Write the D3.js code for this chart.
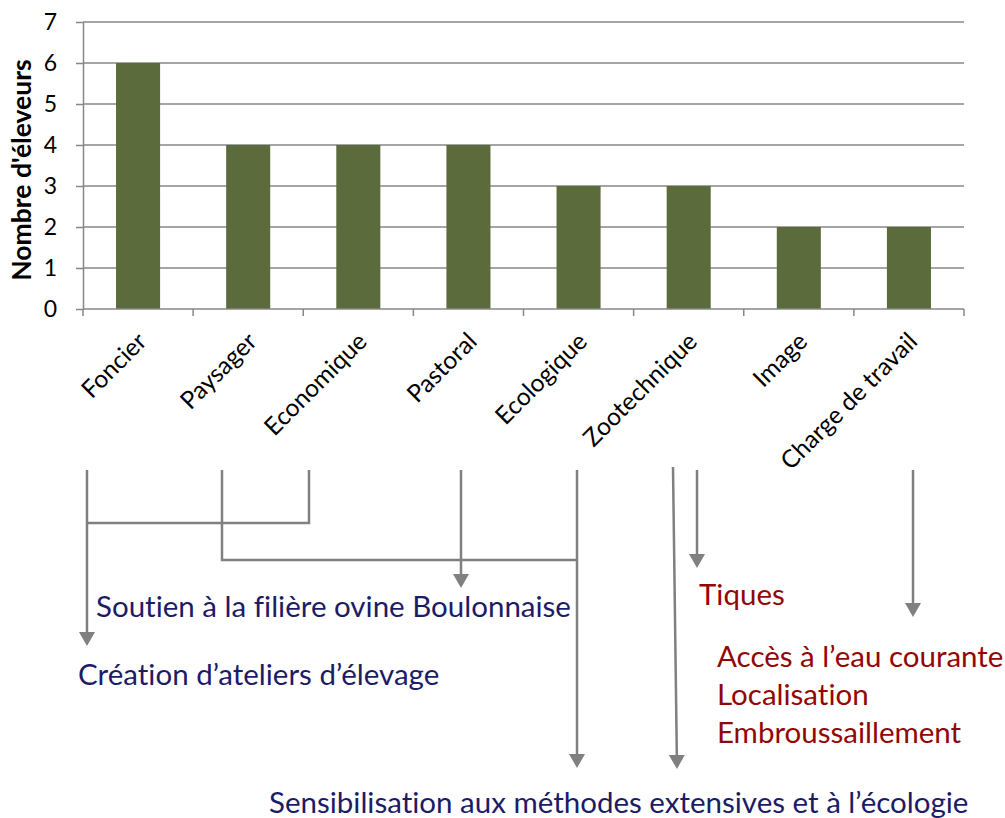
<!DOCTYPE html>
<html>
<head>
<meta charset="utf-8">
<script src="https://cdnjs.cloudflare.com/ajax/libs/d3/7.8.5/d3.min.js"></script>
<style>
 body { margin:0; background:#fff; }
 svg { font-family: Lato, "Open Sans", sans-serif; font-variant-ligatures: none; }
</style>
</head>
<body>
<script>
var categories = ["Foncier", "Paysager", "Economique", "Pastoral", "Ecologique", "Zootechnique", "Image", "Charge de travail"];
var values = [6, 4, 4, 4, 3, 3, 2, 2];
var yTicks = [0, 1, 2, 3, 4, 5, 6, 7];
var yTitle = "Nombre d'éleveurs";
var blueNotes = ["Soutien à la filière ovine Boulonnaise", "Création d’ateliers d’élevage", "Sensibilisation aux méthodes extensives et à l’écologie"];
var redNotes = ["Tiques", "Accès à l’eau courante", "Localisation", "Embroussaillement"];

(function () {
var W = 1005, H = 818;
var pL = 83, pR = 964, pT = 22, pB = 309;
var grey = "#878787";

var svg = d3.select("body").append("svg")
    .attr("width", W)
    .attr("height", H);

var x = d3.scaleBand().domain(categories).range([pL, pR])
    .paddingInner(0.6).paddingOuter(0.3);
var y = d3.scaleLinear().domain([0, 7]).range([pB, pT]);

// horizontal gridlines
svg.append("g").selectAll("line").data(yTicks.slice(1)).join("line")
    .attr("x1", pL).attr("x2", pR)
    .attr("y1", d => y(d)).attr("y2", d => y(d))
    .attr("stroke", grey).attr("stroke-width", 1.5);

// bars
svg.append("g").selectAll("rect").data(values).join("rect")
    .attr("x", (d, i) => x(categories[i]))
    .attr("y", d => y(d))
    .attr("width", x.bandwidth())
    .attr("height", d => y(0) - y(d))
    .attr("fill", "#5c6b3b");

// y axis
var yAxis = svg.append("g").attr("transform", "translate(" + pL + ",0)")
    .call(d3.axisLeft(y).tickValues(yTicks).tickFormat(d3.format("d"))
      .tickSize(7).tickSizeOuter(0).tickPadding(19));
yAxis.select(".domain").attr("stroke", grey).attr("stroke-width", 1.5);
yAxis.selectAll(".tick line").attr("stroke", grey).attr("stroke-width", 1.5);
yAxis.selectAll(".tick text").attr("font-size", 23).attr("fill", "#000")
    .attr("font-family", "Lato, sans-serif");

// x axis (ticks between categories)
var step = x.step();
var bounds = categories.map(c => x(c) - (step - x.bandwidth()) / 2);
bounds.push(bounds[bounds.length - 1] + step);
svg.append("line").attr("x1", pL).attr("x2", pR).attr("y1", pB).attr("y2", pB)
    .attr("stroke", grey).attr("stroke-width", 1.5);
svg.append("g").selectAll("line").data(bounds).join("line")
    .attr("x1", d => d).attr("x2", d => d)
    .attr("y1", pB).attr("y2", pB + 7)
    .attr("stroke", grey).attr("stroke-width", 1.5);

// category labels
svg.append("g").selectAll("text").data(categories).join("text")
    .attr("transform", d => "translate(" + (x(d) + x.bandwidth() / 2 + 10) + "," + 343 + ") rotate(-45)")
    .attr("text-anchor", "end")
    .attr("font-size", 24.5)
    .attr("fill", "#000")
    .text(d => d);

// y title
svg.append("text")
    .attr("transform", "translate(31,170) rotate(-90)")
    .attr("text-anchor", "middle")
    .attr("font-size", 26.5)
    .attr("font-weight", "bold")
    .text(yTitle);

// annotation arrows
function connector(pts, head) {
  var n = pts.length;
  var a = pts[n - 2], b = pts[n - 1];
  var dx = b[0] - a[0], dy = b[1] - a[1], len = Math.sqrt(dx * dx + dy * dy);
  var ux = dx / len, uy = dy / len;
  var line = pts.slice();
  if (head) line[n - 1] = [b[0] - ux * 12, b[1] - uy * 12];
  svg.append("path")
    .attr("d", d3.line()(line))
    .attr("fill", "none").attr("stroke", "#808080").attr("stroke-width", 2.5);
  if (head) {
    var hl = 14, hw = 8;
    var bx = b[0] - ux * hl, by = b[1] - uy * hl;
    svg.append("path")
      .attr("d", d3.line()([[b[0], b[1]], [bx - uy * hw, by + ux * hw], [bx + uy * hw, by - ux * hw]]) + "Z")
      .attr("fill", "#808080");
  }
}
connector([[309, 470], [309, 523], [87, 523]], false);
connector([[87, 470], [87, 646]], true);
connector([[222, 470], [222, 560], [577, 560]], false);
connector([[461, 470], [461, 588]], true);
connector([[577, 470], [577, 768]], true);
connector([[673, 467], [677, 769]], true);
connector([[697, 470], [697, 568]], true);
connector([[913, 470], [913, 617]], true);

// annotation texts
var blueColor = "#1c1c66", redColor = "#930606";
var bluePos = [[96, 617], [78, 685], [269, 813]];
svg.append("g").selectAll("text").data(blueNotes).join("text")
    .attr("x", (d, i) => bluePos[i][0]).attr("y", (d, i) => bluePos[i][1])
    .attr("font-size", 29.5).attr("fill", blueColor)
    .text(d => d);
var redPos = [[699, 605], [717, 667], [717, 705], [717, 743]];
svg.append("g").selectAll("text").data(redNotes).join("text")
    .attr("x", (d, i) => redPos[i][0]).attr("y", (d, i) => redPos[i][1])
    .attr("font-size", 29.5).attr("fill", redColor)
    .text(d => d);
})();
</script>
</body>
</html>
